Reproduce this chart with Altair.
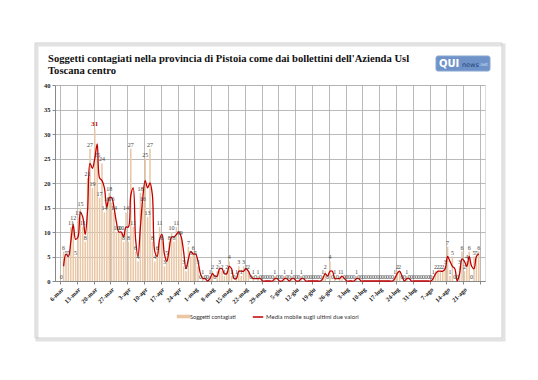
import altair as alt
import pandas as pd

# Soggetti contagiati, dal 6 marzo al 26 agosto (un valore al giorno)
valori = [
    0, 6, 5, 5, 11, 12, 5, 13, 15, 11, 8,
    21, 27, 19, 31, 25, 17, 24, 14, 16, 18, 16,
    14, 10, 10, 10, 8, 14, 8, 27, 11, 6, 4,
    18, 16, 25, 13, 27, 8, 4, 6, 11, 8, 3,
    5, 8, 10, 8, 11, 9, 9, 3, 2, 7, 5, 6, 5,
    3, 0, 1, 0, 0, 1, 2, 0, 2, 3, 2, 1, 2, 4, 1, 0, 1, 3, 1, 3, 2, 2, 0, 1, 0, 1,
    0, 0, 0, 0, 0, 0, 1, 0, 0, 0, 1, 0, 0, 1, 0, 0, 0, 1,
    0, 0, 0, 0, 0, 0, 0, 0, 1, 2, 0, 4, 0, 1, 0, 1, 1,
    0, 0, 0, 0, 0, 1,
    0, 0, 0, 0, 0, 0, 0, 0, 0, 0, 0, 0, 0, 0, 0,
    1, 2, 2, 0, 0, 1,
    0, 0, 0, 0, 0, 0, 0, 0, 0, 0,
    1, 2, 2, 2, 2, 3, 7, 1, 5, 0, 0, 3, 6, 2, 4, 6, 0, 5, 5, 6,
]
assert len(valori) == 175

etichette = ['6-mar', '13-mar', '20-mar', '27-mar', '3-apr', '10-apr', '17-apr',
             '24-apr', '1-mag', '8-mag', '15-mag', '22-mag', '29-mag', '5-giu',
             '12-giu', '19-giu', '26-giu', '3-lug', '10-lug', '17-lug', '24-lug',
             '31-lug', '7-ago', '14-ago', '21-ago', '']

serie_barre = 'Soggetti contagiati'
serie_linea = 'Media mobile sugli ultimi due valori'
titolo = ["Soggetti contagiati nella provincia di Pistoia come dai bollettini dell'Azienda Usl",
          "Toscana centro"]

N = len(valori)
df = pd.DataFrame({'giorno': list(range(N)), 'valore': valori})
df['centro'] = df['giorno'] + 0.5
df['serie'] = serie_barre
df['serie2'] = serie_linea

W, H = 430, 196
SERIF = 'Liberation Serif'
SANS = 'Lato'

label_expr = "datum.value < 175 ? " + str(etichette) + "[round(datum.value/7)] : ''"

x_axis = alt.Axis(values=list(range(0, 176, 7)), labelExpr=label_expr,
                  labelAngle=-45, labelOverlap=False, labelBound=False, title=None, grid=True,
                  gridColor='#a8a8a8', gridWidth=0.8,
                  labelFont=SERIF, labelFontWeight='bold', labelFontSize=6.3,
                  labelColor='#222', tickSize=3, tickColor='#888',
                  domainColor='#888', labelPadding=2)
x_enc = alt.X('centro:Q', scale=alt.Scale(domain=[0, 175], nice=False, zero=False),
              axis=x_axis)
y_scale = alt.Scale(domain=[0, 40], nice=False)
y_axis = alt.Axis(values=list(range(0, 41, 5)), title=None, grid=True,
                  gridColor='#a8a8a8', gridWidth=0.8,
                  labelFont=SERIF, labelFontWeight='bold', labelFontSize=6.5,
                  labelColor='#222', tickSize=3, tickColor='#888',
                  domainColor='#888', labelPadding=2)
y_enc = alt.Y('valore:Q', scale=y_scale, axis=y_axis)

base = alt.Chart(df)

barre = base.mark_bar(size=1.5).encode(
    x=x_enc,
    y=y_enc,
    color=alt.Color('serie:N', scale=alt.Scale(domain=[serie_barre], range=['#E9C6A4']),
                    legend=alt.Legend(title=None, orient='none', legendX=123, legendY=226,
                                      symbolType='M-1.5,-0.4H1.5V0.4H-1.5Z', symbolSize=80,
                                      labelFont=SANS, labelFontSize=5.6, labelColor='#333',
                                      labelOffset=1)),
)

linea = base.transform_window(
    ma='mean(valore)', frame=[-1, 0], sort=[{'field': 'giorno'}]
).transform_filter('datum.giorno > 0').mark_line(
    interpolate='catmull-rom', strokeWidth=1.3
).encode(
    x=x_enc,
    y=alt.Y('ma:Q', scale=y_scale, axis=y_axis),
    stroke=alt.Stroke('serie2:N', scale=alt.Scale(domain=[serie_linea], range=['#C00000']),
                      legend=alt.Legend(title=None, orient='none', legendX=197, legendY=226,
                                        symbolType='stroke', symbolSize=110,
                                        symbolStrokeWidth=1.5,
                                        labelFont=SANS, labelFontSize=6.0, labelColor='#333',
                                        labelOffset=2)),
)

testi = base.transform_filter('datum.valore != 31').mark_text(
    dy=-4, fontSize=6, font=SERIF, color='#444'
).encode(x=x_enc, y=y_enc, text='valore:Q')

massimo = base.transform_filter('datum.valore == 31').mark_text(
    dy=-5, fontSize=7, font=SERIF, fontWeight='bold', color='#C00000'
).encode(x=x_enc, y=y_enc, text='valore:Q')

one = alt.Chart(pd.DataFrame({'k': [0]}))
ombra = one.mark_rect(fill='transparent', stroke='#e2e2e2', strokeWidth=3).encode(
    x=alt.value(-18), y=alt.value(-40), x2=alt.value(449), y2=alt.value(255))
cornice = one.mark_rect(fill='transparent', stroke='#cfcfcf', strokeWidth=1).encode(
    x=alt.value(-20), y=alt.value(-42), x2=alt.value(447), y2=alt.value(253))
logo_box = one.mark_rect(fill='#6f93c9', stroke='#8aa6d2', cornerRadius=2).encode(
    x=alt.value(381), y=alt.value(-29), x2=alt.value(435), y2=alt.value(-14))
logo_qui = one.mark_text(text='QUI', font='DejaVu Sans', fontWeight='bold', fontSize=10,
                         color='white', align='left', baseline='middle').encode(
    x=alt.value(384), y=alt.value(-21))
logo_news = one.mark_text(text='news', font='DejaVu Sans', fontSize=6.5,
                          color='#1f3f73', align='left', baseline='middle').encode(
    x=alt.value(407), y=alt.value(-20))
logo_net = one.mark_text(text='.net', font='DejaVu Sans', fontSize=4.5,
                         color='#dde6f4', align='left', baseline='middle').encode(
    x=alt.value(424), y=alt.value(-20))

chart = alt.layer(
    ombra, cornice, barre, linea, testi, massimo, logo_box, logo_qui, logo_news, logo_net
).properties(
    width=W, height=H,
    title=alt.TitleParams(titolo, anchor='start', frame='group', dx=-7, offset=-34,
                          font=SERIF, fontSize=10.6, fontWeight='bold', color='#111',
                          lineHeight=12),
    autosize=alt.AutoSizeParams(type='none'),
    padding={'left': 47, 'top': 77, 'right': 45, 'bottom': 91},
).configure_view(stroke=None).configure_axisX(labelOverlap=False).configure(background='white')

chart.save("out.html", embed_options={"renderer": "svg", "actions": False})
